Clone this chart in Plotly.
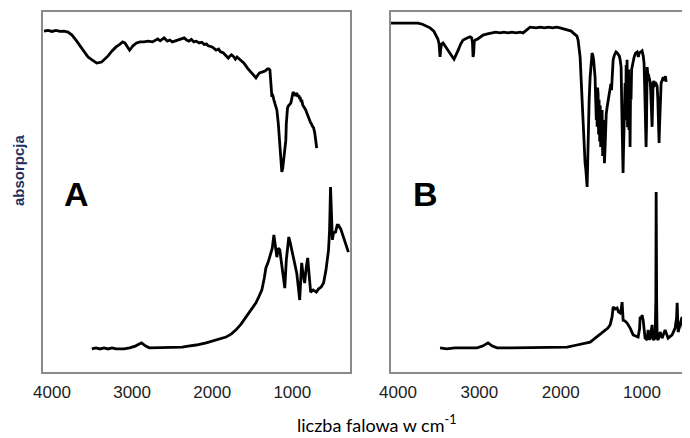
import plotly.graph_objects as go

# ---------------- data ----------------
# Panel A - IR (top trace)
a_ir_wn = [4100, 4050, 4000, 3950, 3900, 3850, 3800, 3750, 3700, 3650, 3600, 3550, 3500, 3441, 3380, 3300,
           3250, 3200, 3150, 3118, 3090, 3070, 3031, 3010, 2990, 2944, 2900, 2850, 2800, 2746, 2700, 2680,
           2650, 2622, 2600, 2560, 2530, 2497, 2460, 2420, 2380, 2348, 2320, 2290, 2260, 2230, 2200, 2162,
           2130, 2100, 2070, 2050, 2000, 1951, 1920, 1900, 1860, 1830, 1800, 1789, 1760, 1740, 1710, 1690,
           1650, 1603, 1560, 1520, 1480, 1454, 1430, 1410, 1380, 1340, 1310, 1293, 1280, 1270, 1262, 1255,
           1248, 1240, 1230, 1215, 1193, 1175, 1160, 1145, 1131, 1120, 1110, 1095, 1081, 1075, 1069, 1060,
           1050, 1035, 1019, 1010, 1000, 990, 982, 970, 960, 950, 940, 930, 920, 910, 900, 890, 883, 870,
           860, 845, 833, 815, 800, 785, 771, 760, 750, 740, 734, 720, 715, 705, 696]
a_ir_y = [94.7, 94.9, 94.6, 94.9, 94.6, 94.7, 94.4, 93.6, 92.2, 90.6, 88.9, 87.5, 86.7, 85.8, 86.1, 87.8,
          89.2, 90.3, 91.1, 91.7, 91.4, 90.8, 89.4, 90.0, 90.6, 91.4, 91.7, 91.7, 91.9, 91.7, 92.2, 92.5,
          92.0, 92.5, 92.8, 91.9, 92.2, 91.7, 92.0, 92.2, 92.5, 92.8, 92.2, 91.9, 92.4, 91.7, 91.9, 91.4,
          91.6, 91.0, 91.1, 90.6, 90.3, 89.4, 89.7, 89.0, 88.6, 88.0, 87.2, 87.5, 88.1, 87.8, 86.9, 87.5,
          86.7, 85.8, 84.4, 83.3, 82.2, 81.7, 82.5, 83.1, 83.3, 83.6, 84.2, 84.2, 83.9, 81.1, 78.0, 76.4,
          77.2, 76.7, 75.6, 74.4, 72.8, 69.0, 64.4, 60.0, 55.6, 56.5, 58.9, 61.5, 64.4, 69.0, 72.8, 73.3,
          73.9, 74.4, 74.7, 75.6, 76.4, 77.8, 77.5, 77.2, 76.7, 77.5, 77.2, 76.4, 76.9, 76.1, 76.1, 75.0, 75.6, 74.2,
          73.9, 73.1, 72.8, 71.7, 70.6, 70.0, 69.2, 68.9, 68.3, 68.1, 67.8, 66.4, 65.8, 63.9, 62.2]

# Panel A - Raman (bottom trace)
a_ra_wn = [3503, 3450, 3400, 3350, 3300, 3250, 3200, 3100, 3031, 2960, 2882, 2830, 2783, 2700, 2600, 2500,
           2373, 2300, 2200, 2075, 1950, 1827, 1760, 1703, 1640, 1578, 1520, 1454, 1420, 1380, 1350, 1330,
           1300, 1268, 1250, 1230, 1210, 1193, 1175, 1156, 1140, 1131, 1110, 1094, 1075, 1060, 1044, 1025,
           1007, 980, 945, 925, 908, 895, 883, 865, 846, 827, 808, 790, 771, 740, 700, 672, 640, 610, 580,
           548, 535, 523, 512, 500, 486, 460, 440, 424, 395, 362, 330, 300]
a_ra_y = [6.4, 6.7, 6.4, 6.7, 6.4, 6.7, 6.4, 6.4, 6.7, 7.2, 8.1, 7.2, 6.7, 6.7, 6.7, 6.9,
          6.9, 7.2, 7.5, 8.1, 8.9, 9.7, 10.6, 11.7, 13.3, 15.3, 17.2, 19.2, 20.8, 22.8, 26.1, 28.9,
          30.6, 33.1, 34.4, 38.1, 33.9, 31.9, 34.4, 33.9, 31.1, 29.2, 24.7, 23.3, 31.1, 34.4, 37.5, 35.8,
          33.9, 30.6, 27.5, 23.6, 20.0, 25.6, 30.3, 26.9, 24.7, 28.9, 31.7, 26.9, 22.2, 22.8, 22.2, 23.1, 23.6, 24.7, 28.3,
          33.9, 39.4, 51.4, 40.0, 36.7, 38.6, 38.9, 40.8, 40.8, 39.7, 37.5, 35.3, 33.3]

# Panel B - IR (top trace)
b_ir_wn = [4086, 3950, 3850, 3754, 3700, 3650, 3606, 3560, 3530, 3510, 3495, 3488, 3483, 3476, 3465, 3446,
           3420, 3400, 3360, 3330, 3311, 3290, 3260, 3230, 3200, 3150, 3114, 3095, 3085, 3077, 3070, 3063,
           3053, 3020, 3000, 2954, 2900, 2850, 2800, 2745, 2700, 2650, 2600, 2550, 2500, 2462, 2420, 2376,
           2300, 2250, 2200, 2150, 2100, 2050, 2007, 1950, 1900, 1870, 1847, 1815, 1800, 1786, 1775, 1761,
           1750, 1737, 1725, 1712, 1700, 1690, 1680, 1675, 1668, 1663, 1650, 1638, 1625, 1614, 1605, 1595,
           1585, 1577, 1570, 1562, 1556, 1552, 1546, 1540, 1534, 1528, 1520, 1514, 1508, 1500, 1491, 1484,
           1478, 1470, 1462, 1454, 1446, 1440, 1429, 1420, 1410, 1400, 1392, 1383, 1375, 1365, 1355, 1340,
           1320, 1305, 1294, 1280, 1270, 1262, 1257, 1250, 1245, 1239, 1233, 1227, 1220, 1214, 1208, 1201,
           1195, 1190, 1184, 1178, 1171, 1165, 1160, 1154, 1147, 1141, 1135, 1128, 1122, 1110, 1097, 1080,
           1060, 1045, 1036, 1015, 999, 985, 975, 968, 962, 956, 950, 945, 942, 937, 930, 920, 910, 900,
           893, 888, 882, 876, 872, 870, 864, 852, 840, 826, 814, 806, 800, 795, 790, 785, 780, 772, 765,
           750, 740, 730, 720, 712, 704]
b_ir_y = [96.9, 96.9, 96.9, 96.9, 96.6, 96.1, 95.6, 94.7, 93.6, 92.5, 91.1, 88.0, 87.5, 89.5, 91.1, 91.4,
          90.6, 90.0, 88.6, 87.5, 86.9, 87.8, 89.4, 91.1, 92.2, 92.8, 93.1, 92.8, 91.7, 87.5, 88.5, 91.7,
          92.2, 92.5, 92.8, 93.6, 93.9, 94.2, 94.4, 94.2, 94.4, 94.2, 94.4, 94.2, 94.4, 94.2, 95.0, 95.8,
          95.6, 95.8, 95.6, 95.8, 95.6, 95.8, 95.6, 95.3, 95.0, 94.7, 94.2, 93.6, 93.3, 92.2, 90.0, 87.5,
          82.0, 75.6, 68.0, 61.7, 58.0, 56.1, 53.0, 51.4, 58.0, 64.4, 75.6, 81.9, 86.1, 88.6, 88.0, 86.7,
          84.0, 81.9, 76.0, 70.0, 78.0, 68.1, 79.0, 77.2, 66.0, 75.6, 64.0, 74.0, 62.5, 72.0, 72.8, 60.0,
          70.0, 67.2, 58.0, 62.5, 70.0, 71.7, 73.6, 75.0, 76.9, 78.3, 79.2, 80.0, 78.3, 83.0, 86.7, 88.0,
          88.9, 88.6, 88.3, 87.8, 86.9, 85.5, 84.7, 75.0, 70.0, 60.0, 55.3, 62.0, 72.8, 78.0, 80.3, 70.0,
          85.3, 72.0, 86.7, 68.0, 75.6, 84.0, 67.2, 80.0, 62.5, 78.0, 75.6, 84.0, 84.7, 86.5, 87.5, 88.6,
          88.9, 87.5, 88.6, 88.9, 89.2, 87.8, 85.8, 80.0, 75.6, 68.0, 62.5, 68.0, 75.6, 84.7, 83.0, 82.5, 81.7, 80.6,
          78.0, 75.6, 70.0, 68.1, 72.0, 75.6, 80.3, 80.8, 79.7, 80.0, 79.4, 76.0, 72.8, 67.0, 63.6, 68.0, 72.8, 78.0, 80.3,
          81.1, 81.9, 81.4, 81.1, 82.2, 80.6]

# Panel B - Raman (bottom trace)
b_ra_wn = [3483, 3400, 3300, 3200, 3100, 3028, 2960, 2893, 2840, 2782, 2600, 2400, 2200, 2000, 1921, 1800,
           1675, 1638, 1560, 1478, 1420, 1392, 1368, 1355, 1330, 1306, 1290, 1269, 1255, 1245, 1232, 1210,
           1183, 1146, 1109, 1048, 1030, 1023, 1010, 999, 986, 962, 937, 925, 912, 900, 876, 863, 839, 830,
           826, 820, 814, 802, 777, 753, 716, 679, 630, 593, 575, 568, 556, 507, 494, 445, 408]
b_ra_y = [6.7, 6.4, 6.7, 6.7, 6.7, 6.7, 7.2, 8.1, 7.2, 6.7, 6.7, 6.7, 6.9, 6.9, 6.9, 7.5,
          8.1, 8.3, 9.7, 11.1, 12.2, 13.1, 15.3, 18.1, 17.5, 17.8, 16.7, 16.4, 17.5, 19.4, 14.4, 14.2,
          13.6, 12.2, 10.3, 9.7, 12.0, 15.3, 14.7, 15.8, 14.4, 9.4, 8.9, 11.7, 9.0, 9.4, 13.1, 8.9, 9.4, 20.0,
          50.0, 20.0, 9.4, 8.9, 11.1, 9.4, 11.7, 9.4, 10.3, 12.2, 15.0, 19.2, 11.1, 15.3, 12.2, 13.1, 11.7]

x_ticks = [4000, 3000, 2000, 1000]
panel_labels = ["A", "B"]
x_title = "liczba falowa w cm<sup>-1</sup>"
y_title = "absorpcja"

# ---------------- figure ----------------
line_style = dict(color="black", width=2.8)
fig = go.Figure()
fig.add_trace(go.Scatter(x=a_ir_wn, y=a_ir_y, mode="lines", line=line_style, xaxis="x", yaxis="y"))
fig.add_trace(go.Scatter(x=a_ra_wn, y=a_ra_y, mode="lines", line=line_style, xaxis="x", yaxis="y"))
fig.add_trace(go.Scatter(x=b_ir_wn, y=b_ir_y, mode="lines", line=line_style, xaxis="x2", yaxis="y2"))
fig.add_trace(go.Scatter(x=b_ra_wn, y=b_ra_y, mode="lines", line=line_style, xaxis="x2", yaxis="y2"))

frame = "#8a8a8a"
xcommon = dict(tickvals=x_ticks, ticktext=[str(v) for v in x_ticks], showgrid=False, zeroline=False,
               showline=True, linecolor=frame, linewidth=1.5, mirror=True, ticks="",
               ticklabelstandoff=4,
               tickfont=dict(family="Liberation Sans", size=17, color="#222222"))
ycommon = dict(range=[0, 100], showgrid=False, zeroline=False, showticklabels=False, ticks="",
               showline=True, linecolor=frame, linewidth=1.5)

# the page body adds an 8 px offset, so the figure is drawn 8 px smaller on each side
fig.update_layout(
    width=682, height=430,
    margin=dict(l=35, r=0, t=4, b=66),
    paper_bgcolor="white", plot_bgcolor="white",
    showlegend=False,
    xaxis=dict(domain=[0, 0.4745], range=[4112, 280], anchor="y", **xcommon),
    yaxis=dict(domain=[0, 1], anchor="x", mirror=True, **ycommon),
    xaxis2=dict(domain=[0.5379, 1], range=[4086, 410], anchor="y2", **xcommon),
    yaxis2=dict(domain=[0, 1], anchor="x2", mirror=False, **ycommon),
)

fig.add_annotation(x=3700, y=49.5, xref="x", yref="y", text=panel_labels[0], showarrow=False,
                   font=dict(family="Liberation Sans", size=34, color="black", weight="bold"))
fig.add_annotation(x=3660, y=49.5, xref="x2", yref="y2", text=panel_labels[1], showarrow=False,
                   font=dict(family="Liberation Sans", size=34, color="black", weight="bold"))

fig.add_annotation(x=(18 - 43) / 647, y=(372 - 170) / 360, xref="paper", yref="paper",
                   yanchor="middle", xanchor="center",
                   text=y_title, textangle=-90, showarrow=False,
                   font=dict(family="Liberation Sans", size=15, color="#1f2f5e", weight="bold"))
fig.add_annotation(x=(376 - 43) / 647, y=(372 - 424) / 360, xref="paper", yref="paper",
                   yanchor="middle", xanchor="center",
                   text=x_title, showarrow=False,
                   font=dict(family="Lato", size=18, color="#000000"))

fig.write_html("out.html")
